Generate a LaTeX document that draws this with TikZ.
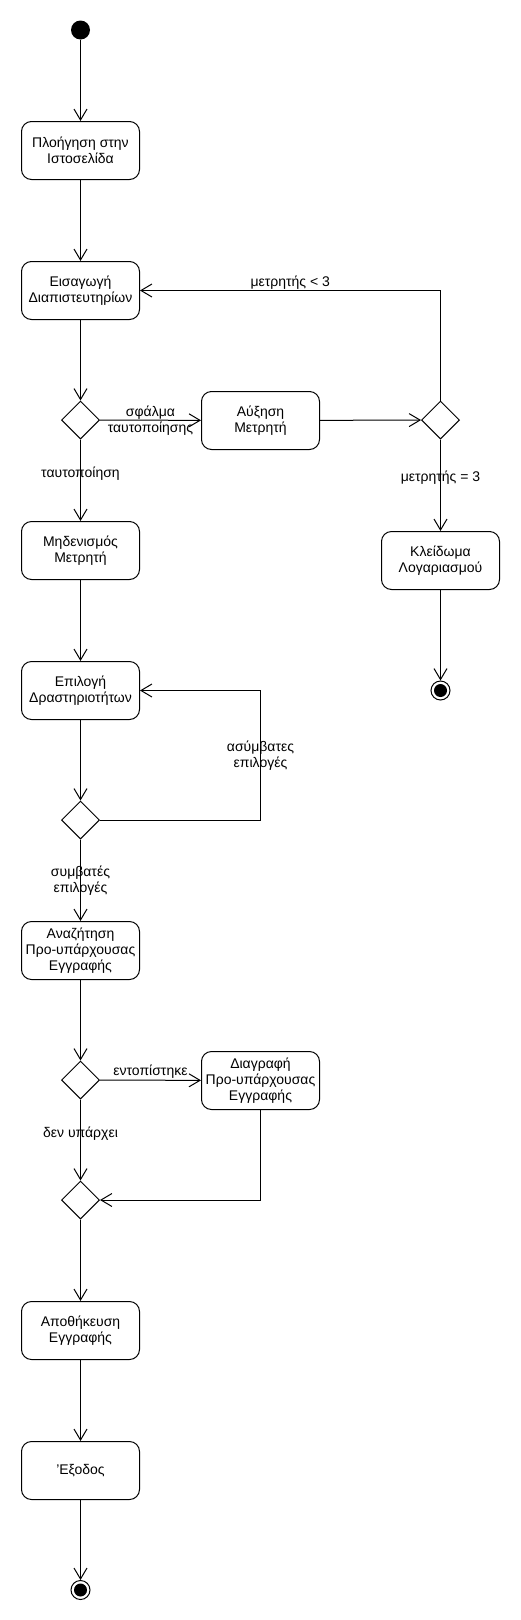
\documentclass[tikz,border=0pt]{standalone}
\usepackage{fontspec}
\setmainfont{Liberation Sans}
\usetikzlibrary{arrows.meta,shapes.geometric}
\begin{document}
\begin{tikzpicture}[x=1pt,y=-1pt,
  act/.style={draw, line width=1pt, rounded corners=10pt, minimum width=118pt, minimum height=58pt, align=center, inner sep=2pt, font=\fontsize{14}{16}\selectfont},
  dec/.style={draw, line width=1pt, diamond, aspect=1, minimum width=38pt, minimum height=38pt, inner sep=0pt},
  ini/.style={circle, fill, minimum size=19pt, inner sep=0pt},
  fin/.style={circle, draw, line width=1pt, fill=white, minimum size=19pt, inner sep=0pt, path picture={\fill[black] (path picture bounding box.center) circle (6.5pt);}},
  flow/.style={line width=1pt, -{Straight Barb[length=11pt,width=13pt]}},
  lbl/.style={font=\fontsize{14}{16}\selectfont, align=center, inner sep=1pt}]
\useasboundingbox (0,0) rectangle (520,1620);
\node[ini] (init0) at (80.5,30){};
\node[act] (act1) at (80.5,150.5){Πλοήγηση στην\\Ιστοσελίδα};
\node[act] (act2) at (80.5,290.5){Εισαγωγή\\Διαπιστευτηρίων};
\node[dec] (dec1) at (80.5,420){};
\node[act] (act3) at (260.5,420.5){Αύξηση\\Μετρητή};
\node[dec] (dec2) at (440.5,420){};
\node[act] (act4) at (80.5,550.5){Μηδενισμός\\Μετρητή};
\node[act] (act5) at (440.5,560.5){Κλείδωμα\\Λογαριασμού};
\node[fin] (fin1) at (440.5,690.5){};
\node[act] (act6) at (80.5,690.5){Επιλογή\\Δραστηριοτήτων};
\node[dec] (dec3) at (80.5,820){};
\coordinate (loop1) at (260.5,820);
\node[act] (act7) at (80.5,950.5){Αναζήτηση\\Προ-υπάρχουσας\\Εγγραφής};
\node[dec] (dec4) at (80.5,1080){};
\node[act] (act8) at (260.5,1080.5){Διαγραφή\\Προ-υπάρχουσας\\Εγγραφής};
\node[dec] (dec5) at (80.5,1200){};
\node[act] (act9) at (80.5,1330.5){Αποθήκευση\\Εγγραφής};
\node[act] (act10) at (80.5,1470.5){'Εξοδος};
\node[fin] (fin2) at (80.5,1590){};
\draw[flow](init0) -- (act1);
\draw[flow](act1) -- (act2);
\draw[flow](act2) -- (dec1);
\draw[flow](dec1) -- node[lbl]{σφάλμα\\ταυτοποίησης} (act3);
\draw[flow](act3) -- (dec2);
\draw[flow](dec2) |- node[lbl, pos=0.75, above]{μετρητής < 3} (act2);
\draw[flow](dec2) -- node[lbl, pos=0.42]{μετρητής = 3} (act5);
\draw[flow](act5) -- (fin1);
\draw[flow](dec1) -- node[lbl, pos=0.42]{ταυτοποίηση} (act4);
\draw[flow](act4) -- (act6);
\draw[flow](act6) -- (dec3);
\draw[flow](dec3.east) -- (loop1) |- node[lbl, pos=0.25]{ασύμβατες\\επιλογές} (act6);
\draw[flow](dec3) -- node[lbl]{συμβατές\\επιλογές} (act7);
\draw[flow](act7) -- (dec4);
\draw[flow](dec4) -- node[lbl, above]{εντοπίστηκε} (act8);
\draw[flow](dec4) -- node[lbl, pos=0.42]{δεν υπάρχει} (dec5);
\draw[flow](act8) |- (dec5);
\draw[flow](dec5) -- (act9);
\draw[flow](act9) -- (act10);
\draw[flow](act10) -- (fin2);
\end{tikzpicture}
\end{document}
